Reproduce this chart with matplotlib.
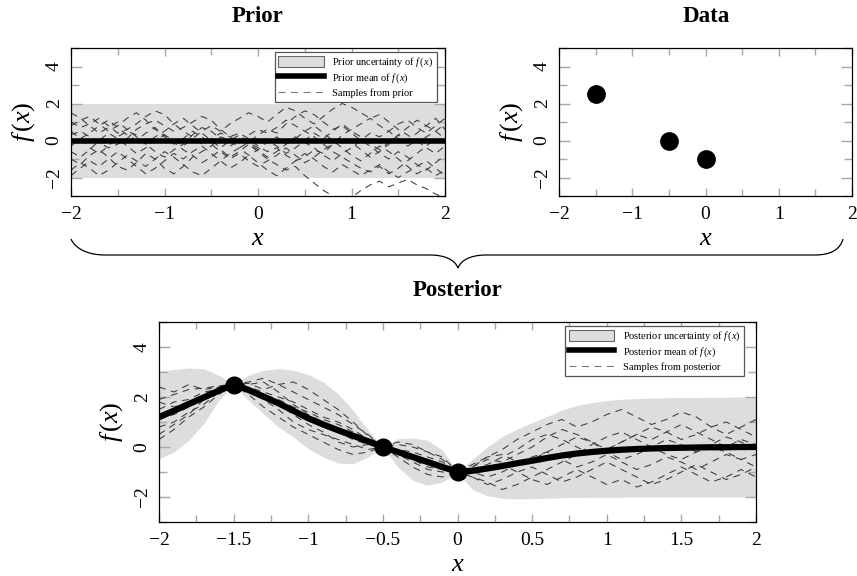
import numpy as np
import matplotlib
matplotlib.use('Agg')
import matplotlib.pyplot as plt
from matplotlib.path import Path
from matplotlib.patches import PathPatch, Patch
from matplotlib.lines import Line2D
from matplotlib.ticker import MultipleLocator, FixedLocator, FixedFormatter

plt.rcParams['font.family'] = ['Liberation Serif', 'DejaVu Serif']
plt.rcParams['mathtext.fontset'] = 'custom'
plt.rcParams['mathtext.rm'] = 'Liberation Serif'
plt.rcParams['mathtext.it'] = 'Liberation Serif:italic'
plt.rcParams['mathtext.bf'] = 'Liberation Serif:bold'
plt.rcParams['lines.scale_dashes'] = False

# ---------------- data ----------------
x_grid = [-2.0, -1.9, -1.8, -1.7, -1.6, -1.5, -1.4, -1.3, -1.2, -1.1, -1.0,
          -0.9, -0.8, -0.7, -0.6, -0.5, -0.4, -0.3, -0.2, -0.1, 0.0,
          0.1, 0.2, 0.3, 0.4, 0.5, 0.6, 0.7, 0.8, 0.9, 1.0,
          1.1, 1.2, 1.3, 1.4, 1.5, 1.6, 1.7, 1.8, 1.9, 2.0]

prior_x = [-2.0, 2.0]
prior_mean = [0.0, 0.0]
prior_upper = [2.0, 2.0]
prior_lower = [-2.0, -2.0]

prior_samples = [
    [0.3,0.5,0.2,-0.1,-0.4,-0.2,0.1,0.6,0.9,1.1,0.8,0.5,0.7,1.0,1.3,1.1,0.6,0.2,0.4,0.1,-0.3,-0.6,-0.4,-0.8,-1.1,-0.9,-0.5,-0.7,-0.2,0.3,0.6,0.9,1.2,0.8,0.5,0.9,1.1,0.7,0.4,0.8,1.2],
    [-1.0,-1.3,-0.8,-0.5,-0.9,-1.4,-1.6,-1.2,-0.7,-1.0,-1.5,-1.8,-1.4,-0.9,-0.6,-0.3,0.2,0.0,-0.4,-0.1,0.3,0.6,0.4,0.9,1.3,1.6,1.4,1.0,0.6,0.8,0.4,0.0,-0.3,-0.7,-1.0,-0.6,-0.9,-1.3,-1.6,-1.2,-0.8],
    [1.0,0.7,0.9,1.2,0.8,0.4,0.6,0.9,1.3,1.6,1.4,0.9,0.5,0.2,-0.2,0.1,0.4,0.2,-0.1,0.3,0.6,0.4,0.7,1.1,0.8,0.5,0.2,-0.2,-0.6,-0.9,-1.2,-1.5,-1.7,-1.4,-1.8,-1.5,-1.1,-0.7,-0.3,0.1,-0.2],
    [-0.3,0.1,-0.4,-0.7,-0.3,0.2,0.5,0.3,-0.2,-0.6,-0.9,-0.5,-0.2,0.3,0.7,0.5,0.1,-0.3,0.0,-0.2,-0.6,-1.0,-1.3,-1.6,-1.4,-1.9,-2.3,-2.7,-3.0,-3.3,-3.1,-2.7,-2.4,-2.2,-2.5,-2.3,-2.1,-2.4,-2.6,-2.9,-3.1],
    [-1.6,-1.2,-1.5,-1.9,-1.6,-1.2,-0.8,-1.1,-1.4,-1.0,-0.6,-0.9,-1.3,-1.7,-1.9,-1.5,-1.1,-0.7,-0.4,-0.8,-0.5,-0.1,0.2,-0.2,0.1,0.5,0.8,0.4,0.0,-0.4,-0.8,-1.1,-0.7,-0.3,-0.6,-1.0,-1.4,-1.8,-1.5,-1.9,-1.6],
    [0.8,1.1,1.3,0.9,0.5,0.8,1.2,1.5,1.1,0.6,0.3,0.0,-0.3,0.1,0.5,0.8,0.5,0.9,1.2,1.5,1.3,1.0,1.4,1.8,1.6,1.2,0.9,1.3,1.7,2.0,1.8,1.5,1.2,1.4,1.0,0.6,0.3,-0.1,0.2,0.5,0.9],
    [-0.6,-0.9,-0.5,0.0,0.4,0.1,-0.3,-0.7,-0.4,0.0,0.3,-0.1,-0.5,-0.8,-1.2,-0.9,-0.5,-0.9,-0.6,-0.2,-0.5,-0.9,-0.6,-0.2,0.2,-0.1,-0.4,-0.8,-1.1,-0.7,-0.4,0.0,0.4,0.2,0.5,0.1,-0.3,0.0,-0.4,-0.7,-0.3],
    [0.5,0.1,0.4,0.8,1.1,0.7,0.3,0.0,0.4,0.7,0.2,-0.2,0.1,0.5,0.2,-0.2,-0.6,-1.0,-0.7,-1.1,-1.4,-1.1,-0.8,-0.4,-0.8,-1.2,-0.9,-0.5,-0.2,0.2,-0.1,-0.5,-0.9,-0.6,-0.2,0.3,0.7,1.1,0.8,1.2,0.6],
    [1.5,1.2,0.8,0.4,0.7,1.0,0.6,0.2,-0.2,0.2,0.5,0.9,1.2,0.8,0.4,0.0,-0.4,0.0,0.3,-0.1,-0.4,0.0,-0.3,-0.7,-0.4,0.0,0.4,0.1,0.5,0.9,0.5,0.2,-0.2,-0.5,-0.1,0.3,0.0,0.4,0.8,0.5,0.1],
    [-1.9,-1.5,-1.1,-1.4,-1.0,-0.6,-1.0,-1.4,-1.8,-1.5,-1.1,-0.7,-1.0,-0.6,-0.3,-0.7,-1.1,-1.5,-1.2,-0.8,-1.2,-1.6,-1.9,-1.5,-1.1,-0.7,-1.0,-1.4,-1.7,-1.3,-1.6,-1.9,-1.6,-1.3,-1.7,-2.0,-1.7,-1.4,-1.1,-1.5,-1.9],
]

data_x = [-1.5, -0.5, 0.0]
data_y = [2.5, 0.0, -1.0]

post_mean = [1.2, 1.45, 1.72, 1.98, 2.25, 2.5, 2.28, 2.02, 1.75, 1.45, 1.15,
             0.9, 0.67, 0.45, 0.23, 0.0, -0.2, -0.4, -0.6, -0.8, -1.0,
             -0.95, -0.86, -0.76, -0.65, -0.55, -0.44, -0.34, -0.26, -0.2, -0.15,
             -0.11, -0.08, -0.06, -0.04, -0.03, -0.02, -0.01, -0.01, 0.0, 0.0]
post_upper = [3.03, 3.1, 3.16, 3.13, 2.87, 2.52, 2.87, 3.07, 3.13, 3.07, 2.9,
              2.6, 2.13, 1.47, 0.67, 0.02, 0.33, 0.36, 0.27, -0.13, -0.98,
              -0.5, 0.0, 0.42, 0.72, 0.97, 1.22, 1.48, 1.66, 1.78, 1.86,
              1.91, 1.94, 1.96, 1.97, 1.98, 1.98, 1.99, 1.99, 2.0, 2.0]
post_lower = [-0.47, -0.2, 0.27, 0.93, 1.87, 2.48, 1.87, 1.33, 0.8, 0.4, -0.07,
              -0.4, -0.64, -0.67, -0.4, -0.02, -0.8, -1.33, -1.53, -1.4, -1.02,
              -1.7, -1.95, -2.05, -2.08, -2.07, -2.05, -2.03, -2.02, -2.01, -2.01,
              -2.01, -2.0, -2.0, -2.0, -2.0, -2.0, -2.0, -2.0, -2.0, -2.0]

post_samples = [
    [1.9,2.1,2.3,2.35,2.45,2.5,2.6,2.75,2.5,2.2,1.9,1.6,1.3,0.9,0.5,0.0,-0.1,-0.3,-0.55,-0.8,-1.0,-0.7,-0.4,-0.1,0.3,0.6,0.9,1.1,0.8,1.0,1.3,1.5,1.2,0.9,1.1,1.4,1.2,0.8,0.5,0.8,1.1],
    [0.3,0.7,1.2,1.6,2.1,2.5,2.1,1.6,1.2,0.8,0.5,0.2,-0.1,-0.3,-0.2,0.0,-0.4,-0.8,-1.1,-1.2,-1.0,-1.2,-1.5,-1.3,-1.0,-0.8,-1.1,-1.4,-1.2,-0.9,-0.6,-0.9,-1.2,-1.5,-1.3,-1.0,-0.7,-1.0,-1.3,-1.1,-0.8],
    [2.4,2.2,2.5,2.3,2.4,2.5,2.55,2.3,2.5,2.6,2.3,1.9,1.5,1.0,0.45,0.0,0.2,0.1,-0.2,-0.5,-1.0,-0.8,-0.5,-0.6,-0.3,0.0,0.4,0.7,0.5,0.2,-0.1,0.2,0.5,0.3,0.6,0.9,0.6,0.3,0.0,0.3,0.1],
    [0.8,1.0,1.4,1.7,2.2,2.5,2.2,1.9,1.5,1.0,0.7,0.5,0.3,0.1,-0.1,0.0,-0.3,-0.5,-0.8,-0.9,-1.0,-1.1,-0.9,-0.7,-1.0,-1.3,-1.5,-1.2,-0.9,-1.2,-1.5,-1.3,-1.6,-1.4,-1.1,-0.8,-1.1,-1.4,-1.2,-0.9,-1.2],
    [1.5,1.8,1.9,2.2,2.3,2.5,2.4,2.2,2.0,1.8,1.5,1.2,1.0,0.7,0.3,0.0,-0.1,-0.2,-0.4,-0.6,-1.0,-0.9,-0.7,-0.4,-0.1,0.3,0.5,0.3,0.0,-0.3,-0.1,0.2,0.5,0.8,0.6,0.3,0.5,0.8,1.0,0.7,0.4],
    [1.1,1.3,1.6,2.0,2.3,2.5,2.5,2.6,2.2,1.7,1.3,1.0,0.6,0.3,0.1,0.0,-0.2,-0.4,-0.7,-0.9,-1.0,-1.0,-1.2,-1.0,-0.7,-0.5,-0.2,0.1,0.4,0.2,-0.2,-0.5,-0.3,0.0,-0.3,-0.5,-0.2,0.0,-0.2,-0.5,-0.3],
    [0.5,0.9,1.3,1.9,2.2,2.5,2.3,2.1,1.9,1.6,1.4,1.1,0.9,0.6,0.3,0.0,-0.3,-0.6,-0.9,-1.0,-1.0,-0.8,-0.4,-0.3,-0.6,-0.4,-0.2,-0.5,-0.8,-0.6,-0.3,-0.6,-0.9,-0.7,-0.4,-0.6,-0.9,-0.6,-0.3,-0.5,-0.8],
    [1.8,1.6,1.8,2.1,2.4,2.5,2.3,2.0,1.7,1.3,0.9,0.6,0.2,0.0,0.1,0.0,0.1,0.0,-0.2,-0.4,-1.0,-1.2,-1.4,-1.7,-1.5,-1.2,-0.9,-0.6,-0.3,0.1,0.4,0.6,0.3,0.0,0.3,0.1,-0.2,0.1,0.4,0.2,-0.1],
]

top_xticks = [-2, -1, 0, 1, 2]
top_xticklabels = ['\u22122', '\u22121', '0', '1', '2']
post_xticks = [-2, -1.5, -1, -0.5, 0, 0.5, 1, 1.5, 2]
post_xticklabels = ['\u22122', '\u22121.5', '\u22121', '\u22120.5', '0', '0.5', '1', '1.5', '2']
yticks = [-2, 0, 2, 4]
yticklabels = ['\u22122', '0', '2', '4']

# ---------------- style ----------------
W, H = 857, 576
BAND = '#dddddd'
SAMPLE = '#3a3a3a'
TICKC = '#a8a8a8'

fig = plt.figure(figsize=(W / 100, H / 100), dpi=100)


def px_axes(l, t, r, b):
    return fig.add_axes([l / W, 1 - b / H, (r - l) / W, (b - t) / H])


def style(ax, xt, xtl, xminor):
    ax.set_xlim(-2, 2)
    ax.set_ylim(-3, 5)
    ax.xaxis.set_major_locator(FixedLocator(xt))
    ax.xaxis.set_major_formatter(FixedFormatter(xtl))
    ax.xaxis.set_minor_locator(MultipleLocator(xminor))
    ax.yaxis.set_major_locator(FixedLocator(yticks))
    ax.yaxis.set_major_formatter(FixedFormatter(yticklabels))
    ax.yaxis.set_minor_locator(MultipleLocator(1))
    ax.tick_params(which='both', direction='in', top=True, right=True,
                   color=TICKC, width=1.0)
    ax.tick_params(axis='x', which='major', length=6, labelsize=14, pad=7)
    ax.tick_params(axis='x', which='minor', length=5)
    ax.tick_params(axis='y', which='major', length=8, labelsize=14, pad=6,
                   labelrotation=90)
    ax.tick_params(axis='y', which='minor', length=6)
    for lab in ax.get_yticklabels():
        lab.set_verticalalignment('center')
    for s in ax.spines.values():
        s.set_linewidth(0.9)
        s.set_color('black')
    ax.set_xlabel('$x$', fontsize=19, labelpad=4)
    ax.set_ylabel('$f\\,(x)$', fontsize=19, labelpad=6)


def legend(ax, kind, dx, dy, w, h):
    handles = [Patch(facecolor=BAND, edgecolor='#666666', linewidth=0.8),
               Line2D([], [], color='black', lw=4),
               Line2D([], [], color='#777777', lw=0.8, dashes=(5, 4))]
    labels = [kind + ' uncertainty of $f\\,(x)$', kind + ' mean of $f\\,(x)$',
              'Samples from ' + kind.lower()]
    leg = ax.legend(handles, labels, loc='upper right',
                    bbox_to_anchor=(1 - dx / w, 1 - dy / h), borderaxespad=0,
                    fontsize=7.5, handlelength=4.4, handleheight=1.35,
                    labelspacing=0.2, borderpad=0.35, handletextpad=0.8,
                    fancybox=False, framealpha=1, edgecolor='#555555')
    leg.get_frame().set_linewidth(0.9)
    leg.set_zorder(10)


# Prior panel
ax1 = px_axes(71, 48, 445, 196)
ax1.fill_between(prior_x, prior_lower, prior_upper, color=BAND, lw=0, zorder=1)
for s in prior_samples:
    ax1.plot(x_grid, s, color=SAMPLE, lw=0.75, dashes=(5, 4), zorder=2)
ax1.plot(prior_x, prior_mean, color='black', lw=4, zorder=3,
         solid_capstyle='butt')
style(ax1, top_xticks, top_xticklabels, 0.5)
legend(ax1, 'Prior', 8, 4, 374, 148)

# Data panel
ax2 = px_axes(559, 48, 852, 196)
ax2.plot(data_x, data_y, 'o', color='black', ms=12.5, zorder=3)
style(ax2, top_xticks, top_xticklabels, 0.5)

# Posterior panel
ax3 = px_axes(159, 322, 756, 522)
ax3.fill_between(x_grid, post_lower, post_upper, color=BAND, lw=0, zorder=1)
for s in post_samples:
    ax3.plot(x_grid, s, color=SAMPLE, lw=0.75, dashes=(5, 4), zorder=2)
ax3.plot(x_grid, post_mean, color='black', lw=4.5, zorder=3)
ax3.plot(data_x, data_y, 'o', color='black', ms=12, zorder=4)
style(ax3, post_xticks, post_xticklabels, 0.25)
legend(ax3, 'Posterior', 12, 4, 597, 200)

# Titles
fig.text(258 / W, 1 - 16 / H, 'Prior', ha='center', va='center',
         fontsize=16.5, fontweight='bold')
fig.text(706 / W, 1 - 16 / H, 'Data', ha='center', va='center',
         fontsize=16.5, fontweight='bold')
fig.text(458 / W, 1 - 291 / H, 'Posterior', ha='center', va='center',
         fontsize=16.5, fontweight='bold')

# Brace
pts = [(71, 239), (76, 250), (90, 255), (105, 255),
       (430, 255),
       (445, 255), (455, 260), (458, 268),
       (461, 260), (471, 255), (486, 255),
       (815, 255),
       (830, 255), (840, 250), (843, 239)]
codes = [Path.MOVETO, Path.CURVE4, Path.CURVE4, Path.CURVE4,
         Path.LINETO,
         Path.CURVE4, Path.CURVE4, Path.CURVE4,
         Path.CURVE4, Path.CURVE4, Path.CURVE4,
         Path.LINETO,
         Path.CURVE4, Path.CURVE4, Path.CURVE4]
verts = [(x / W, 1 - y / H) for x, y in pts]
fig.add_artist(PathPatch(Path(verts, codes), transform=fig.transFigure,
                         fill=False, lw=0.9, edgecolor='black'))

fig.savefig('out.png', dpi=100)
